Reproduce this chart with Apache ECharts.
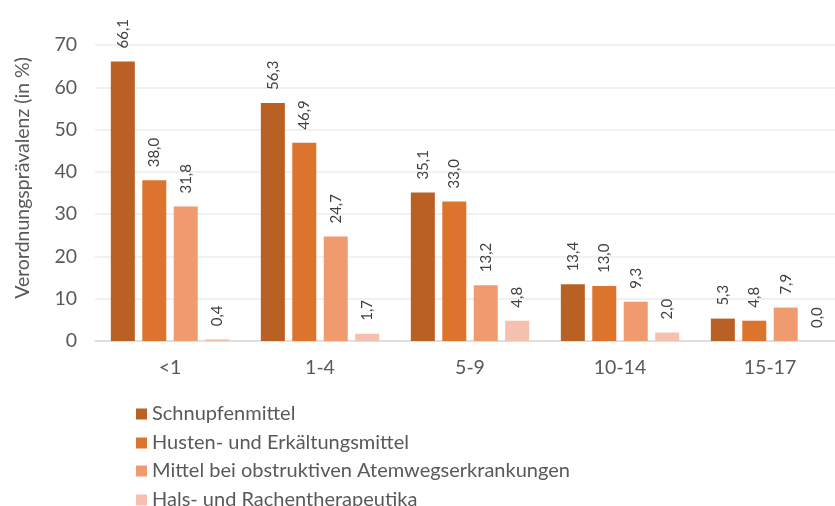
<!DOCTYPE html>
<html>
<head>
<meta charset="utf-8">
<script src="https://cdn.jsdelivr.net/npm/echarts@6/dist/echarts.min.js"></script>
<style>
  html, body { margin: 0; padding: 0; background: #ffffff; }
  #chart { width: 835px; height: 506px; }
</style>
</head>
<body>
<div id="chart"></div>
<script>
// Altersgruppen (Jahre)
const categories = ['<1', '1-4', '5-9', '10-14', '15-17'];

// Verordnungsprävalenz in % je Wirkstoffgruppe
const seriesNames = [
  'Schnupfenmittel',
  'Husten- und Erkältungsmittel',
  'Mittel bei obstruktiven Atemwegserkrankungen',
  'Hals- und Rachentherapeutika'
];
const schnupfenmittel = [66.1, 56.3, 35.1, 13.4, 5.3];
const hustenErkaeltung = [38.0, 46.9, 33.0, 13.0, 4.8];
const obstruktiv = [31.8, 24.7, 13.2, 9.3, 7.9];
const halsRachen = [0.4, 1.7, 4.8, 2.0, 0.0];

const colors = ['#b96024', '#dd742e', '#f09a70', '#f5c1ae'];
const font = 'Lato, "Open Sans", sans-serif';

const seriesValues = [schnupfenmittel, hustenErkaeltung, obstruktiv, halsRachen];

// one vertical legend row per series, stacked below the plot
const legendRowTop = [404, 433, 461, 490];
const legends = seriesNames.map((name, i) => ({
  orient: 'vertical',
  left: 136,
  top: legendRowTop[i],
  padding: 0,
  itemWidth: 11,
  itemHeight: 11,
  itemGap: 0,
  icon: 'rect',
  textStyle: { fontFamily: font, fontSize: 20, lineHeight: 20, color: '#595959' },
  data: [name]
}));

const chart = echarts.init(document.getElementById('chart'), null, { renderer: 'canvas' });

chart.setOption({
  animation: false,
  color: colors,
  textStyle: { fontFamily: font },
  // the plot area runs slightly past the right edge of the canvas
  grid: { left: 95, top: 45, width: 750, bottom: 165, containLabel: false, outerBoundsMode: 'none' },
  legend: legends,
  xAxis: {
    type: 'category',
    data: categories,
    axisLine: { show: true, lineStyle: { color: '#d9d9d9', width: 1.5 } },
    axisTick: { show: false },
    axisLabel: { fontFamily: font, fontSize: 19.5, color: '#595959', margin: 17 }
  },
  yAxis: {
    type: 'value',
    min: 0,
    max: 70,
    interval: 10,
    name: 'Verordnungsprävalenz (in %)',
    nameLocation: 'middle',
    nameGap: 62,
    nameTextStyle: { fontFamily: font, fontSize: 19.5, color: '#595959', padding: [0, 0, 0, 30] },
    axisLine: { show: false },
    axisTick: { show: false },
    axisLabel: { fontFamily: font, fontSize: 19.5, color: '#595959', margin: 18 },
    splitLine: { show: true, lineStyle: { color: '#ededed', width: 1.5 } }
  },
  series: seriesValues.map((vals, i) => ({
    name: seriesNames[i],
    type: 'bar',
    data: vals,
    barWidth: 24,
    barGap: '31%',
    itemStyle: { color: colors[i] },
    label: {
      show: true,
      position: 'top',
      rotate: 90,
      align: 'left',
      verticalAlign: 'middle',
      distance: 13,
      fontFamily: font,
      fontSize: 15,
      color: '#404040',
      formatter: p => p.value.toFixed(1).replace('.', ',')
    }
  }))
});
</script>
</body>
</html>
